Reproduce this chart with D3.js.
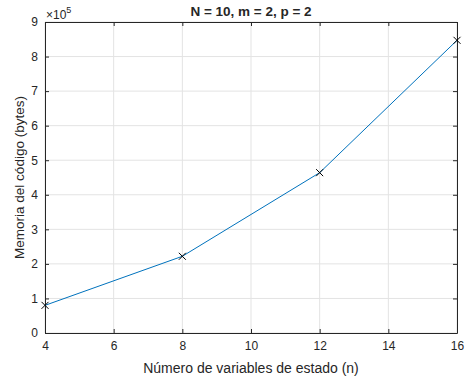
<!DOCTYPE html>
<html>
<head>
<meta charset="utf-8">
<script src="https://cdn.jsdelivr.net/npm/d3@7"></script>
<style>
body { margin: 0; background: #fff; }
text { font-family: "Liberation Sans", Arial, sans-serif; fill: #262626; }
</style>
</head>
<body>
<script>
var width = 465,
    height = 378;

var nValues = [4, 8, 12, 16];
var memory = [0.80e5, 2.22e5, 4.64e5, 8.47e5];
var xTicks = [4, 6, 8, 10, 12, 14, 16];
var yTicks = [0, 1, 2, 3, 4, 5, 6, 7, 8, 9];

var margin = {top: 22, right: 8, bottom: 45, left: 45};

var x = d3.scaleLinear()
  .domain([4, 16])
  .range([margin.left, width - margin.right]);

var y = d3.scaleLinear()
  .domain([0, 9e5])
  .range([height - margin.bottom, margin.top]);

var svg = d3.select("body").append("svg")
  .attr("width", width)
  .attr("height", height);

// grid
svg.append("g")
  .selectAll("line")
  .data(xTicks)
  .enter().append("line")
    .attr("x1", function(d) { return x(d); })
    .attr("x2", function(d) { return x(d); })
    .attr("y1", y(0))
    .attr("y2", y(9e5))
    .attr("stroke", "#e3e3e3");

svg.append("g")
  .selectAll("line")
  .data(yTicks)
  .enter().append("line")
    .attr("x1", x(4))
    .attr("x2", x(16))
    .attr("y1", function(d) { return y(d * 1e5); })
    .attr("y2", function(d) { return y(d * 1e5); })
    .attr("stroke", "#e3e3e3");

// axes (ticks inside, like matlab)
var xAxis = svg.append("g")
  .attr("transform", "translate(0," + y(0) + ")")
  .call(d3.axisBottom(x).tickValues(xTicks).tickSizeInner(-4).tickSizeOuter(0).tickPadding(8));

var xAxisTop = svg.append("g")
  .attr("transform", "translate(0," + y(9e5) + ")")
  .call(d3.axisTop(x).tickValues(xTicks).tickSizeInner(-4).tickSizeOuter(0).tickFormat(""));

var yAxis = svg.append("g")
  .attr("transform", "translate(" + x(4) + ",0)")
  .call(d3.axisLeft(y).tickValues(yTicks.map(function(d) { return d * 1e5; }))
    .tickFormat(function(d) { return d / 1e5; })
    .tickSizeInner(-4).tickSizeOuter(0).tickPadding(7));

var yAxisRight = svg.append("g")
  .attr("transform", "translate(" + x(16) + ",0)")
  .call(d3.axisRight(y).tickValues(yTicks.map(function(d) { return d * 1e5; }))
    .tickSizeInner(-4).tickSizeOuter(0).tickFormat(""));

[xAxis, xAxisTop, yAxis, yAxisRight].forEach(function(g) {
  g.select(".domain").attr("stroke", "#262626");
  g.selectAll(".tick line").attr("stroke", "#262626");
  g.selectAll(".tick text").attr("font-size", 12).attr("fill", "#262626")
    .attr("font-family", "'Liberation Sans', Arial, sans-serif");
});

// line
var line = d3.line()
  .x(function(d, i) { return x(nValues[i]); })
  .y(function(d) { return y(d); });

svg.append("path")
  .datum(memory)
  .attr("fill", "none")
  .attr("stroke", "#0072BD")
  .attr("stroke-width", 1)
  .attr("d", line);

// markers
svg.append("g")
  .selectAll("path")
  .data(memory)
  .enter().append("path")
    .attr("transform", function(d, i) { return "translate(" + x(nValues[i]) + "," + y(d) + ")"; })
    .attr("d", "M-3.5,-3.5L3.5,3.5M-3.5,3.5L3.5,-3.5")
    .attr("stroke", "#000")
    .attr("stroke-width", 1);

// exponent
var expo = svg.append("text")
  .attr("x", x(4) + 1)
  .attr("y", 19)
  .attr("font-size", 12);
expo.append("tspan").text("\u00d710");
expo.append("tspan").attr("font-size", 9).attr("dy", -6).text("5");

// title
svg.append("text")
  .attr("x", (x(4) + x(16)) / 2)
  .attr("y", 16)
  .attr("text-anchor", "middle")
  .attr("font-size", 13.5)
  .attr("font-weight", "bold")
  .attr("fill", "#000")
  .text("N = 10, m = 2, p = 2");

// axis labels
svg.append("text")
  .attr("x", (x(4) + x(16)) / 2)
  .attr("y", 373)
  .attr("text-anchor", "middle")
  .attr("font-size", 14)
  .text("Número de variables de estado (n)");

svg.append("text")
  .attr("transform", "translate(24," + (y(0) + y(9e5)) / 2 + ") rotate(-90)")
  .attr("text-anchor", "middle")
  .attr("font-size", 13.5)
  .text("Memoria del código (bytes)");
</script>
</body>
</html>
